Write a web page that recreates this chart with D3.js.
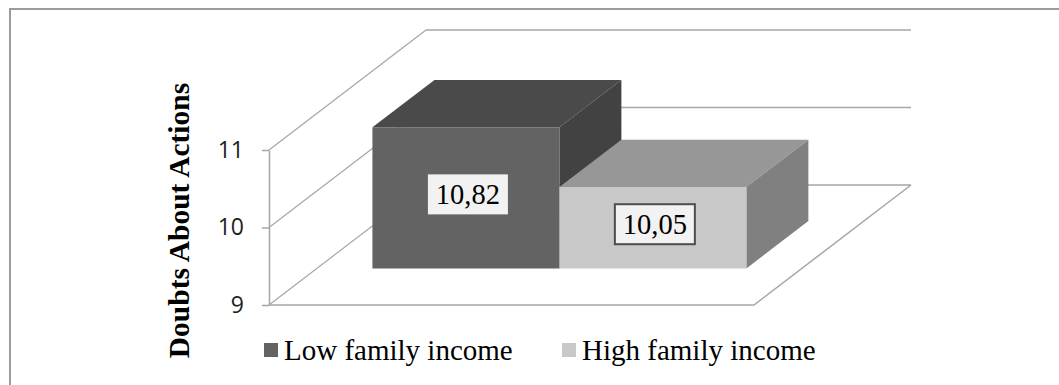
<!DOCTYPE html>
<html>
<head>
<meta charset="utf-8">
<script src="https://cdn.jsdelivr.net/npm/d3@7"></script>
<style>
  html, body { margin: 0; padding: 0; background: #ffffff; }
  svg { display: block; }
</style>
</head>
<body>
<svg id="chart" width="1059" height="385"></svg>
<script>
// Data
const categories = ["Low family income", "High family income"];
const values = [10.82, 10.05];
const valueLabels = ["10,82", "10,05"];
const tickValues = [9, 10, 11];
const tickLabels = ["9", "10", "11"];
const axisTitle = "Doubts About Actions";

// Styling
const frontColors = ["#636363", "#c8c8c8"];
const topColors = ["#4a4a4a", "#979797"];
const sideColors = ["#424242", "#808080"];
const gridColor = "#a6a6a6";

const svg = d3.select("#chart");

// Outer frame (runs off the right and bottom edges)
svg.append("rect")
  .attr("x", 10).attr("y", 9)
  .attr("width", 1100).attr("height", 420)
  .attr("fill", "none")
  .attr("stroke", "#9c9c9c")
  .attr("stroke-width", 2);

// 3D plot box: front plane plus depth offset
const x0 = 269, plotW = 485;
const depthDX = 157, depthDY = -120;

const y = d3.scaleLinear().domain([9, 11]).range([305, 150]);
const xBand = d3.scaleBand()
  .domain(categories)
  .range([x0, x0 + plotW])
  .paddingInner(0)
  .paddingOuter(0.297);

// depth position: 0 = front edge, 1 = back wall
const proj = (px, v, z) => [px + z * depthDX, y(v) + z * depthDY];

const g = svg.append("g");

// Back wall gridlines
g.selectAll("line.back-grid")
  .data(tickValues)
  .join("line")
  .attr("class", "back-grid")
  .attr("x1", d => proj(x0, d, 1)[0])
  .attr("y1", d => proj(x0, d, 1)[1])
  .attr("x2", d => proj(x0 + plotW, d, 1)[0])
  .attr("y2", d => proj(x0 + plotW, d, 1)[1])
  .attr("stroke", gridColor)
  .attr("stroke-width", 1.5);

// Side wall gridlines
g.selectAll("line.side-grid")
  .data(tickValues)
  .join("line")
  .attr("class", "side-grid")
  .attr("x1", d => proj(x0, d, 0)[0])
  .attr("y1", d => proj(x0, d, 0)[1])
  .attr("x2", d => proj(x0, d, 1)[0])
  .attr("y2", d => proj(x0, d, 1)[1])
  .attr("stroke", gridColor)
  .attr("stroke-width", 1.2);

// Floor front and right edges
const floorPts = [proj(x0, 9, 0), proj(x0 + plotW, 9, 0), proj(x0 + plotW, 9, 1)];
g.append("path")
  .attr("d", d3.line()(floorPts))
  .attr("fill", "none")
  .attr("stroke", gridColor)
  .attr("stroke-width", 1.5);

// Vertical axis with ticks
const axis = d3.axisLeft(y)
  .tickValues(tickValues)
  .tickFormat((d, i) => tickLabels[i])
  .tickSize(7)
  .tickSizeOuter(0)
  .tickPadding(18);

const axisG = svg.append("g")
  .attr("transform", `translate(${x0},0)`)
  .call(axis);
axisG.select(".domain").attr("stroke", gridColor).attr("stroke-width", 1.5);
axisG.selectAll(".tick line").attr("stroke", gridColor).attr("stroke-width", 1.5);
axisG.selectAll(".tick text")
  .attr("fill", "#1e1e1e")
  .style("font-family", "'Open Sans', 'Liberation Sans', sans-serif")
  .style("font-size", "23px");

// Bars as boxes
const zFront = 0.305, zBack = 0.70;
const bars = svg.append("g");
categories.forEach((c, i) => {
  const xl = xBand(c), xr = xBand(c) + xBand.bandwidth();
  const v = values[i];
  const fBL = proj(xl, 9, zFront), fBR = proj(xr, 9, zFront);
  const fTL = proj(xl, v, zFront), fTR = proj(xr, v, zFront);
  const bTL = proj(xl, v, zBack), bTR = proj(xr, v, zBack), bBR = proj(xr, 9, zBack);
  const bar = bars.append("g");
  bar.append("path")
    .attr("d", d3.line()([fTL, bTL, bTR, fTR]) + "Z")
    .attr("fill", topColors[i]);
  bar.append("path")
    .attr("d", d3.line()([fTR, bTR, bBR, fBR]) + "Z")
    .attr("fill", sideColors[i]);
  bar.append("path")
    .attr("d", d3.line()([fTL, fTR, fBR, fBL]) + "Z")
    .attr("fill", frontColors[i]);
});

// Value labels on the front faces
const labelG = svg.append("g");
categories.forEach((c, i) => {
  const xl = xBand(c), xr = xBand(c) + xBand.bandwidth();
  const cx = (proj(xl, 9, zFront)[0] + proj(xr, 9, zFront)[0]) / 2 + 2;
  const cy = (proj(xl, 9, zFront)[1] + proj(xl, values[i], zFront)[1]) / 2 - 3.5;
  const w = 80, h = 40;
  labelG.append("rect")
    .attr("x", cx - w / 2).attr("y", cy - h / 2)
    .attr("width", w).attr("height", h)
    .attr("fill", "#f2f2f2")
    .attr("stroke", i === 1 ? "#4d4d4d" : "none")
    .attr("stroke-width", 2);
  labelG.append("text")
    .attr("x", cx).attr("y", cy + 10)
    .attr("text-anchor", "middle")
    .style("font-family", "'Liberation Serif', 'Times New Roman', serif")
    .style("font-size", "28.5px")
    .attr("fill", "#000")
    .text(valueLabels[i]);
});

// Axis title
svg.append("text")
  .attr("transform", "rotate(-90)")
  .attr("x", -220.5).attr("y", 189)
  .attr("text-anchor", "middle")
  .style("font-family", "'Liberation Serif', 'Times New Roman', serif")
  .style("font-weight", "bold")
  .style("font-size", "29.5px")
  .attr("fill", "#000")
  .text(axisTitle);

// Legend
const legendX = [264, 562];
const legend = svg.append("g");
categories.forEach((c, i) => {
  legend.append("rect")
    .attr("x", legendX[i]).attr("y", 343)
    .attr("width", 14).attr("height", 14)
    .attr("fill", frontColors[i]);
  legend.append("text")
    .attr("x", legendX[i] + 20).attr("y", 360)
    .style("font-family", "'Liberation Serif', 'Times New Roman', serif")
    .style("font-size", "29px")
    .attr("fill", "#000")
    .text(c);
});
</script>
</body>
</html>
